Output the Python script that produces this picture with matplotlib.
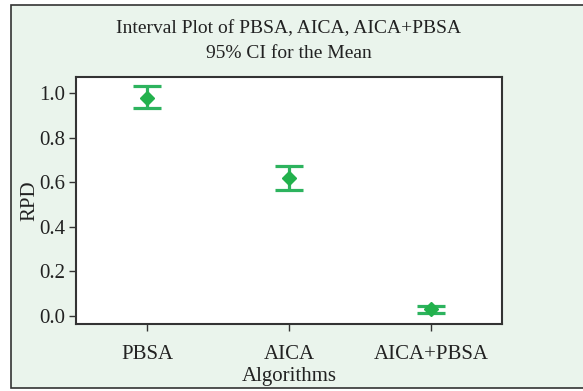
import matplotlib
matplotlib.use("Agg")
import matplotlib.pyplot as plt
from matplotlib.patches import Rectangle

categories = ["PBSA", "AICA", "AICA+PBSA"]
means = [0.979, 0.619, 0.030]
lower = [0.933, 0.566, 0.015]
upper = [1.031, 0.671, 0.045]
yticks = [0.0, 0.2, 0.4, 0.6, 0.8, 1.0]

plt.rcParams['font.family'] = ['Liberation Serif', 'DejaVu Serif']
W, H = 583, 391
fig = plt.figure(figsize=(W/100, H/100), dpi=100)
fig.patch.set_facecolor('white')
bg = '#eaf4ec'
fig.patches.append(Rectangle((11/W, 1-388/H), (W+5-11)/W, (388-5)/H,
                             transform=fig.transFigure, facecolor=bg,
                             edgecolor='#333333', linewidth=1.2, zorder=-10))

ax = fig.add_axes([76/W, 1-324/H, (502-76)/W, (324-77)/H])
ax.set_facecolor('white')
for s in ax.spines.values():
    s.set_color('#333333')
    s.set_linewidth(1.5)

green = '#2db35e'
x = list(range(1, len(categories)+1))
yerr = [[m-l for m, l in zip(means, lower)], [u-m for m, u in zip(means, upper)]]
ax.errorbar(x, means, yerr=yerr, fmt='none', ecolor=green, elinewidth=2.3,
            capsize=10, capthick=2.3)
ax.plot(x, means, linestyle='none', marker='D', markersize=7, color='#22b14c')

ax.set_xlim(0.5, 3.5)
ax.set_ylim(-0.036, 1.072)
ax.set_xticks(x)
ax.set_xticklabels(categories)
ax.set_yticks(yticks)
ax.set_yticklabels([f"{v:.1f}" for v in yticks])
ax.tick_params(direction='out', length=5, width=1, colors='#333333',
               labelsize=15, labelcolor='#222222', pad=3)
ax.tick_params(axis='x', pad=10)
ax.set_xlabel("Algorithms", fontsize=15, color='#222222', va='center')
ax.xaxis.set_label_coords(0.5, (324-377)/247)
ax.set_ylabel("RPD", fontsize=15, color='#222222', va='center')
ax.yaxis.set_label_coords((30-76)/426, 0.5)

fig.text(0.5*(76+502)/W, 1-29/H, "Interval Plot of PBSA, AICA, AICA+PBSA",
         ha='center', va='center', fontsize=14, color='#222222')
fig.text(0.5*(76+502)/W, 1-53/H, "95% CI for the Mean",
         ha='center', va='center', fontsize=14, color='#222222')

fig.savefig("out.png", dpi=100, facecolor=fig.get_facecolor())
